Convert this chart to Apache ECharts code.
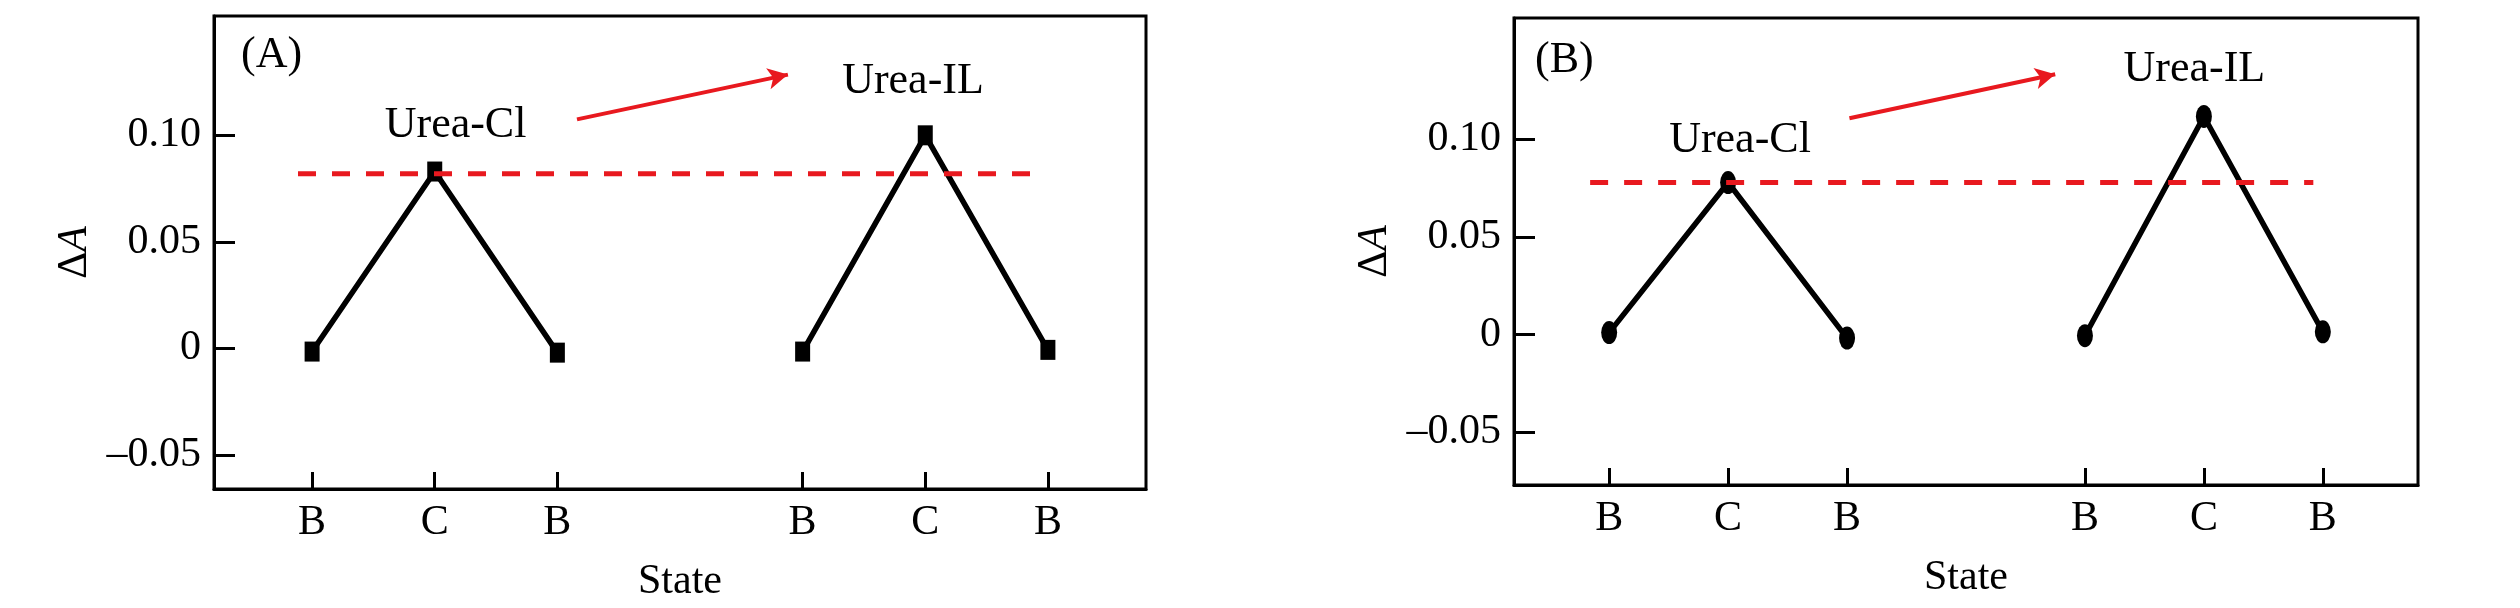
<!DOCTYPE html>
<html>
<head>
<meta charset="utf-8">
<script src="https://cdn.jsdelivr.net/npm/echarts@6/dist/echarts.min.js"></script>
<style>
  html, body { margin: 0; padding: 0; background: #fff; }
  #chart { width: 2520px; height: 608px; }
</style>
</head>
<body>
<div id="chart"></div>
<script>
  // x positions of the states (slot 3 is the gap between the two systems)
  const statePositions = [0, 1, 2, 4, 5, 6]
  const stateLabels = ['B', 'C', 'B', 'B', 'C', 'B']
  const yTicks = [-0.05, 0, 0.05, 0.1]

  // panel (A)
  const clA = [-0.0015, 0.083, -0.002]
  const ilA = [-0.0015, 0.1, -0.0007]
  const refA = 0.082
  const refSpanA = [-0.115, 5.97]
  const arrowA = [[2.16, 0.1075], [3.88, 0.1285]]
  const notesA = [[1.17, 0.1047, 'Urea-Cl'], [4.9, 0.1252, 'Urea-IL']]

  // panel (B)
  const clB = [0.001, 0.0778, -0.0018]
  const ilB = [-0.0006, 0.1116, 0.0014]
  const refB = 0.0778
  const refSpanB = [-0.16, 5.92]
  const arrowB = [[2.02, 0.1107], [3.75, 0.1332]]
  const notesB = [[1.1, 0.0991, 'Urea-Cl'], [4.92, 0.1359, 'Urea-IL']]

  const font = 'Liberation Serif, Times New Roman, serif'
  const red = '#e8191f'

  const fmtY = v => {
    if (Math.abs(v) < 1e-9) return '0'
    const s = Math.abs(v).toFixed(2)
    return v < 0 ? '\u20130' + s.slice(1) : s
  }
  const fmtX = v => {
    const i = statePositions.indexOf(Math.round(v))
    return i >= 0 ? stateLabels[i] : ''
  }

  function makeXAxis(idx) {
    return {
      type: 'value',
      gridIndex: idx,
      min: -0.8,
      max: 6.8,
      name: 'State',
      nameLocation: 'middle',
      nameGap: 72,
      nameTextStyle: { fontFamily: font, fontSize: 42, color: '#000' },
      splitLine: { show: false },
      axisLine: { show: true, onZero: false, lineStyle: { color: '#000', width: 3 } },
      axisTick: { show: true, inside: true, length: 17, lineStyle: { color: '#000', width: 3 }, customValues: statePositions },
      axisLabel: { fontFamily: font, fontSize: 42, color: '#000', margin: 13, customValues: statePositions, formatter: fmtX },
    }
  }

  function makeYAxis(idx, min, max) {
    return {
      type: 'value',
      gridIndex: idx,
      min,
      max,
      name: '{d|\u0394}{i|A}',
      nameLocation: 'middle',
      nameRotate: 90,
      nameGap: 118,
      nameTextStyle: {
        fontFamily: font, fontSize: 42, color: '#000',
        rich: {
          d: { fontFamily: font, fontSize: 42, color: '#000' },
          i: { fontFamily: font, fontSize: 42, color: '#000', fontStyle: 'italic' },
        },
      },
      splitLine: { show: false },
      axisLine: { show: true, onZero: false, lineStyle: { color: '#000', width: 3 } },
      axisTick: { show: true, inside: true, length: 21, lineStyle: { color: '#000', width: 3 }, customValues: yTicks },
      axisLabel: { fontFamily: font, fontSize: 42, color: '#000', margin: 13, customValues: yTicks, formatter: fmtY },
    }
  }

  function panelSeries(idx, cl, il, symbol, symbolSize, ref, refSpan, arrow, notes) {
    const pts = (vals, xs) => vals.map((v, i) => [xs[i], v])
    const lineBase = {
      type: 'line',
      xAxisIndex: idx,
      yAxisIndex: idx,
      symbol,
      symbolSize,
      showAllSymbol: true,
      itemStyle: { color: '#000' },
      lineStyle: { color: '#000', width: 5.5 },
      silent: true,
      z: 3,
    }
    return [
      {
        type: 'line',
        xAxisIndex: idx,
        yAxisIndex: idx,
        data: [[refSpan[0], ref], [refSpan[1], ref]],
        showSymbol: false,
        lineStyle: { color: red, width: 5, type: [18, 16] },
        silent: true,
        z: 4,
        markLine: {
          silent: true,
          symbol: ['none', 'arrow'],
          symbolSize: [16, 20],
          label: { show: false },
          lineStyle: { color: red, width: 4, type: 'solid' },
          data: [[{ coord: arrow[0] }, { coord: arrow[1] }]],
        },
      },
      Object.assign({ data: pts(cl, statePositions.slice(0, 3)) }, lineBase),
      Object.assign({ data: pts(il, statePositions.slice(3)) }, lineBase),
      {
        type: 'scatter',
        xAxisIndex: idx,
        yAxisIndex: idx,
        data: notes,
        symbolSize: 0,
        silent: true,
        itemStyle: { opacity: 1 },
        label: {
          show: true,
          position: 'inside',
          formatter: p => p.value[2],
          fontFamily: font,
          fontSize: 44,
          color: '#000',
          opacity: 1,
          textBorderWidth: 0,
        },
      },
    ]
  }

  const chart = echarts.init(document.getElementById('chart'))
  chart.setOption({
    animation: false,
    backgroundColor: '#fff',
    title: [
      { text: '(A)', left: 236, top: 28, textStyle: { fontFamily: font, fontSize: 44, fontWeight: 'normal', color: '#000' } },
      { text: '(B)', left: 1530, top: 33, textStyle: { fontFamily: font, fontSize: 44, fontWeight: 'normal', color: '#000' } },
    ],
    grid: [
      { left: 214, top: 16, width: 932, height: 473, show: true, borderColor: '#000', borderWidth: 3 },
      { left: 1514, top: 18, width: 904, height: 467, show: true, borderColor: '#000', borderWidth: 3 },
    ],
    xAxis: [makeXAxis(0), makeXAxis(1)],
    yAxis: [makeYAxis(0, -0.066, 0.156), makeYAxis(1, -0.077, 0.162)],
    series: [
      ...panelSeries(0, clA, ilA, 'rect', [15, 20], refA, refSpanA, arrowA, notesA),
      ...panelSeries(1, clB, ilB, 'circle', [16, 23], refB, refSpanB, arrowB, notesB),
    ],
  })
</script>
</body>
</html>
